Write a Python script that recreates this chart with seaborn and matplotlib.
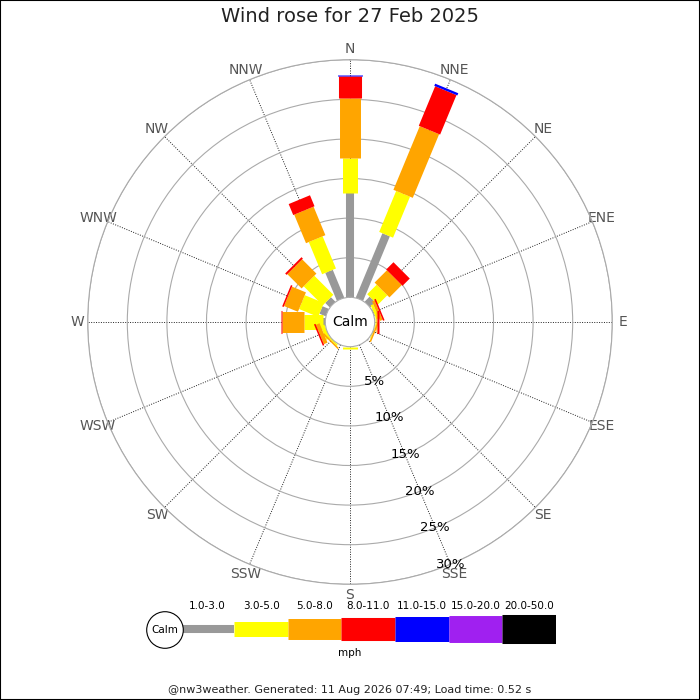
import numpy as np
import pandas as pd
import seaborn as sns
import matplotlib.pyplot as plt
from matplotlib.patches import Circle, Rectangle

# --- Data (percent of time, per direction and speed bin) ---
directions = ["N", "NNE", "NE", "ENE", "E", "ESE", "SE", "SSE",
              "S", "SSW", "SW", "WSW", "W", "WNW", "NW", "NNW"]
speed_bins = ["1.0-3.0", "3.0-5.0", "5.0-8.0", "8.0-11.0",
              "11.0-15.0", "15.0-20.0", "20.0-50.0"]
bin_colors = ["#999999", "#ffff00", "#ffa500", "#ff0000",
              "#0000ff", "#a020f0", "#000000"]

pct_1_3 = [13.2, 8.8, 0.9, 0.1, 0.05, 0, 0, 0, 0.05, 0, 0, 0, 0.25, 0.85, 0.8, 3.8]
pct_3_5 = [4.4, 5.6, 1.7, 0.35, 0.1, 0.1, 0, 0, 0.25, 0, 0.2, 0.5, 2.4, 2.6, 3.4, 4.4]
pct_5_8 = [7.6, 8.7, 2.2, 0.35, 0.2, 0.2, 0, 0, 0, 0, 0.2, 0.5, 2.8, 1.9, 2.55, 3.9]
pct_8_11 = [2.7, 5.4, 1.3, 0.2, 0.2, 0, 0, 0, 0, 0, 0, 0.2, 0.2, 0.2, 0.25, 1.5]
pct_11_15 = [0.15, 0.3, 0, 0, 0, 0, 0, 0, 0, 0, 0, 0, 0, 0, 0, 0]
pct_15_20 = [0, 0, 0, 0, 0, 0, 0, 0, 0, 0, 0, 0, 0, 0, 0, 0]
pct_20_50 = [0, 0, 0, 0, 0, 0, 0, 0, 0, 0, 0, 0, 0, 0, 0, 0]

ring_values = [5, 10, 15, 20, 25, 30]

# bar thickness per speed bin (points)
bin_widths = [5.8, 10.8, 15.1, 16.6, 18.0, 19.4, 20.9]

plt.rcParams["lines.solid_capstyle"] = "butt"
plt.rcParams["font.family"] = ["DejaVu Sans"]

# --- Build stacked radial segments ---
all_bins = [pct_1_3, pct_3_5, pct_5_8, pct_8_11, pct_11_15, pct_15_20, pct_20_50]
angles = np.deg2rad(np.arange(16) * 22.5)
rows = []
seg = 0
for d in range(16):
    start = 0.0
    for b, vals in enumerate(all_bins):
        v = vals[d]
        if v > 0:
            rows.append({"seg": seg, "bin": speed_bins[b], "theta": angles[d], "r": start})
            rows.append({"seg": seg, "bin": speed_bins[b], "theta": angles[d], "r": start + v})
            seg += 1
        start += v
df = pd.DataFrame(rows)

palette = dict(zip(speed_bins, bin_colors))
sizes = dict(zip(speed_bins, bin_widths))

fig = plt.figure(figsize=(7, 7), dpi=100)
fig.patch.set_facecolor("white")

ax = fig.add_axes([0.1253, 0.1653, 0.7494, 0.7494], projection="polar")
ax.set_theta_zero_location("N")
ax.set_theta_direction(-1)
ax.set_axisbelow(True)

sns.lineplot(data=df, x="theta", y="r", hue="bin", size="bin",
             hue_order=speed_bins, size_order=speed_bins,
             palette=palette, sizes=sizes, units="seg", estimator=None,
             sort=False, legend=False, ax=ax)

ax.set_ylim(0, 30)
ax.set_rorigin(-30 * 24.7 / (262.3 - 24.7))
ax.set_xlabel("")
ax.set_ylabel("")

ax.set_xticks(angles)
ax.set_xticklabels(directions, color="#555555", fontsize=10)
ax.tick_params(axis="x", pad=-3)
ax.xaxis.grid(True, linestyle=(0, (1, 1.5)), color="#222222", linewidth=0.7)
ax.set_yticks(ring_values)
ax.set_yticklabels([])
ax.yaxis.grid(True, color="#aaaaaa", linewidth=0.8)
ax.spines["polar"].set_color("#aaaaaa")
ax.spines["polar"].set_linewidth(0.8)
ax.spines["inner"].set_color("#aaaaaa")
ax.spines["inner"].set_linewidth(0.8)

for rv in ring_values:
    ax.text(np.deg2rad(157.5), rv, f"{rv}%", ha="center", va="center",
            fontsize=9.5, color="black")

ax.text(0.5, 0.5, "Calm", transform=ax.transAxes, ha="center", va="center",
        fontsize=10, color="black")

# --- Legend strip ---
leg_rows = []
for i, b in enumerate(speed_bins):
    leg_rows.append({"seg": i, "bin": b, "x": i, "y": 0})
    leg_rows.append({"seg": i, "bin": b, "x": i + 1, "y": 0})
leg_df = pd.DataFrame(leg_rows)

lax = fig.add_axes([180.7 / 700, 0.0586, 375 / 700, 0.0857])
sns.lineplot(data=leg_df, x="x", y="y", hue="bin", size="bin",
             hue_order=speed_bins, size_order=speed_bins,
             palette=palette, sizes=sizes, units="seg", estimator=None,
             sort=False, legend=False, ax=lax)
lax.set_xlim(0, 7)
lax.set_ylim(-1, 1)
lax.axis("off")
for i, b in enumerate(speed_bins):
    lax.text(i + 0.5, 0.75, b, ha="center", va="center", fontsize=7.5, color="black")

fig.add_artist(Circle((165 / 700, 1 - 630 / 700), 18.3 / 700, transform=fig.transFigure,
                      facecolor="white", edgecolor="black", linewidth=0.8))
fig.text(165 / 700, 1 - 630 / 700, "Calm", ha="center", va="center", fontsize=7.5)
fig.text(0.5, 1 - 653 / 700, "mph", ha="center", va="center", fontsize=7.5)

fig.text(0.5, 1 - 17 / 700, "Wind rose for 27 Feb 2025", ha="center", va="center",
         fontsize=14, color="#222222")
fig.text(0.5, 1 - 690 / 700,
         "@nw3weather. Generated: 11 Aug 2026 07:49; Load time: 0.52 s",
         ha="center", va="center", fontsize=8, color="#222222")

fig.add_artist(Rectangle((0, 0), 1, 1, transform=fig.transFigure, fill=False,
                         edgecolor="black", linewidth=1.5))

plt.savefig("out.png", dpi=100)
plt.close()
